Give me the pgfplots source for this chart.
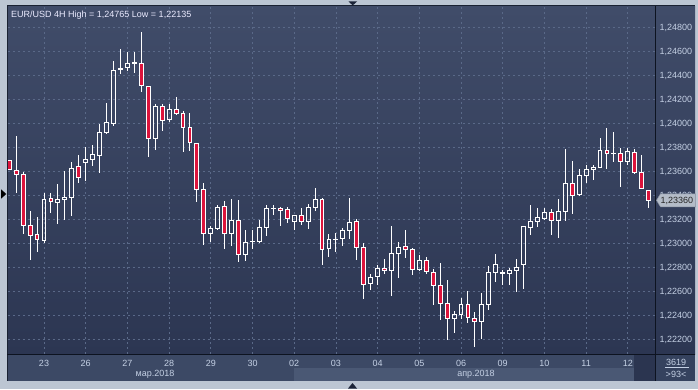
\documentclass[border=0pt]{standalone}
\usepackage{fontspec}
\setmainfont{Liberation Sans}
\usepackage{pgfplots}
\usepackage{pgfplotstable}
\pgfplotsset{compat=1.18}
\definecolor{framec}{HTML}{BCC6D3}
\definecolor{bordc}{HTML}{1A2232}
\definecolor{bgtop}{HTML}{404C69}
\definecolor{bgbot}{HTML}{2C3652}
\definecolor{datec}{HTML}{3C4965}
\definecolor{aprc}{HTML}{4A5874}
\definecolor{darkbox}{HTML}{2B3550}
\definecolor{rpanel}{HTML}{35425E}
\definecolor{gridc}{HTML}{5A6988}
\definecolor{labelc}{HTML}{C4D0E4}
\definecolor{redc}{HTML}{DC143C}
\definecolor{tagc}{HTML}{B4BCC8}
\definecolor{tagb}{HTML}{8A94A3}
\definecolor{sepc}{HTML}{0D1320}
\definecolor{tric}{HTML}{1C2438}

\pgfplotstableread{
k open high low close
0 1.23688 1.23695 1.23610 1.23618
1 1.23608 1.23896 1.23421 1.23579
2 1.23579 1.23598 1.23079 1.23148
3 1.23148 1.23271 1.22863 1.23068
4 1.23077 1.23221 1.22932 1.23035
5 1.23029 1.23423 1.23007 1.23368
6 1.23373 1.23423 1.23257 1.23352
7 1.23343 1.23498 1.23165 1.23368
8 1.23368 1.23604 1.23198 1.23385
9 1.23385 1.23679 1.23232 1.23627
10 1.23638 1.23738 1.23507 1.23552
11 1.23677 1.23804 1.23521 1.23702
12 1.23702 1.23821 1.23648 1.23738
13 1.23735 1.23993 1.23588 1.23927
14 1.23921 1.24173 1.23915 1.24010
15 1.23998 1.24521 1.23982 1.24443
16 1.24452 1.24618 1.24413 1.24456
17 1.24468 1.24593 1.24440 1.24502
18 1.24502 1.24598 1.24421 1.24506
19 1.24502 1.24765 1.24263 1.24318
20 1.24310 1.24313 1.23723 1.23877
21 1.23877 1.24165 1.23779 1.24143
22 1.24143 1.24160 1.23940 1.24027
23 1.24035 1.24160 1.24015 1.24118
24 1.24118 1.24221 1.24067 1.24085
25 1.24085 1.24102 1.23765 1.23965
26 1.23968 1.24088 1.23773 1.23843
27 1.23835 1.23838 1.23348 1.23452
28 1.23452 1.23502 1.22990 1.23082
29 1.23082 1.23148 1.23013 1.23127
30 1.23123 1.23318 1.23115 1.23302
31 1.23310 1.23352 1.22957 1.23082
32 1.23082 1.23368 1.22982 1.23193
33 1.23193 1.23360 1.22848 1.22910
34 1.22910 1.23110 1.22857 1.23010
35 1.23013 1.23110 1.22957 1.23017
36 1.23015 1.23193 1.23010 1.23135
37 1.23135 1.23318 1.23065 1.23293
38 1.23291 1.23318 1.23240 1.23295
39 1.23293 1.23302 1.23148 1.23277
40 1.23285 1.23302 1.23173 1.23210
41 1.23185 1.23240 1.23115 1.23232
42 1.23232 1.23293 1.23157 1.23185
43 1.23185 1.23327 1.23123 1.23302
44 1.23302 1.23460 1.23273 1.23368
45 1.23368 1.23382 1.22823 1.22948
46 1.22957 1.23082 1.22890 1.23035
47 1.23033 1.23090 1.22932 1.23037
48 1.23040 1.23127 1.22982 1.23108
49 1.23108 1.23379 1.23040 1.23175
50 1.23185 1.23202 1.22865 1.22965
51 1.22968 1.23007 1.22540 1.22657
52 1.22665 1.22748 1.22615 1.22718
53 1.22723 1.22823 1.22654 1.22793
54 1.22793 1.22868 1.22748 1.22777
55 1.22773 1.23146 1.22565 1.22918
56 1.22918 1.23013 1.22715 1.22968
57 1.22977 1.23110 1.22877 1.22952
58 1.22952 1.22960 1.22740 1.22785
59 1.22782 1.22902 1.22773 1.22860
60 1.22860 1.22885 1.22743 1.22765
61 1.22760 1.22785 1.22485 1.22648
62 1.22652 1.22835 1.22365 1.22498
63 1.22502 1.22696 1.22198 1.22377
64 1.22377 1.22440 1.22257 1.22410
65 1.22407 1.22543 1.22373 1.22493
66 1.22493 1.22604 1.22340 1.22382
67 1.22377 1.22427 1.22135 1.22352
68 1.22352 1.22585 1.22207 1.22493
69 1.22490 1.22810 1.22448 1.22760
70 1.22760 1.22910 1.22682 1.22827
71 1.22752 1.22777 1.22657 1.22756
72 1.22752 1.22800 1.22657 1.22775
73 1.22775 1.22868 1.22598 1.22802
74 1.22827 1.23146 1.22623 1.23143
75 1.23135 1.23318 1.23073 1.23185
76 1.23185 1.23293 1.23135 1.23218
77 1.23210 1.23293 1.23196 1.23260
78 1.23260 1.23285 1.23073 1.23193
79 1.23193 1.23368 1.23043 1.23268
80 1.23268 1.23785 1.23185 1.23502
81 1.23502 1.23690 1.23243 1.23402
82 1.23407 1.23618 1.23402 1.23568
83 1.23568 1.23657 1.23507 1.23618
84 1.23618 1.23654 1.23532 1.23635
85 1.23635 1.23877 1.23627 1.23777
86 1.23777 1.23963 1.23623 1.23752
87 1.23750 1.23929 1.23682 1.23754
88 1.23752 1.23793 1.23473 1.23685
89 1.23685 1.23793 1.23652 1.23768
90 1.23760 1.23785 1.23577 1.23593
91 1.23588 1.23740 1.23452 1.23460
92 1.23443 1.23445 1.23298 1.23360
}\ohlc

\pgfplotsset{
  seg/.style={draw=white, line width=1pt, mark=none, forget plot},
}

\begin{document}
\begin{tikzpicture}
\begin{scope}[x=1pt,y=1pt]
\fill[framec] (0,0) rectangle (698,389);
\fill[bordc] (7,8) rectangle (695,383.5);
\shade[top color=bgtop, bottom color=bgbot] (8,35) rectangle (695,382.5);
\fill[datec] (8,8.3) rectangle (655,34.5);
\fill[aprc] (294,8.3) rectangle (634,21.5);
\fill[darkbox] (634,8.3) rectangle (655,34.5);
\fill[rpanel] (656,8.3) rectangle (695,34.5);
\end{scope}

\begin{axis}[
  at={(8pt,35pt)}, anchor=south west,
  width=647pt, height=347pt, scale only axis,
  xmin=-0.18, xmax=92.91,
  ymin=1.220792, ymax=1.249708,
  axis line style={draw=none},
  major tick length=0pt,
  xtick={5,11,17,23,29,35,41,47,53,59,65,71,77,83,89},
  xticklabels={23,26,27,28,29,30,02,03,04,05,06,09,10,11,12},
  ytick={1.222,1.224,1.226,1.228,1.230,1.232,1.234,1.236,1.238,1.240,1.242,1.244,1.246,1.248},
  scaled y ticks=false,
  yticklabel pos=right,
  grid=major,
  major grid style={draw=gridc, line width=0.8pt, dash pattern=on 2pt off 3pt},
  tick label style={font=\fontsize{9}{10}\selectfont, text=labelc},
  xticklabel style={anchor=base, yshift=-12pt},
  yticklabel style={anchor=west, xshift=1pt, /pgf/number format/.cd, fixed, fixed zerofill, precision=5, use comma, /tikz/.cd},
  /pgf/number format/assume math mode=true,
  clip mode=individual,
]
% red body fill of falling candles
\addplot[seg, draw=redc, line width=4pt,
  quiver={u=0, v={max(\thisrow{open}-\thisrow{close},0)}}]
  table[x=k, y=close] {\ohlc};
% upper wicks
\addplot[seg, quiver={u=0, v={\thisrow{high}-max(\thisrow{open},\thisrow{close})}}]
  table[x=k, y expr={max(\thisrow{open},\thisrow{close})}] {\ohlc};
% lower wicks
\addplot[seg, quiver={u=0, v={\thisrow{low}-min(\thisrow{open},\thisrow{close})}}]
  table[x=k, y expr={min(\thisrow{open},\thisrow{close})}] {\ohlc};
% body sides
\addplot[seg, line cap=rect, quiver={u=0, v={abs(\thisrow{close}-\thisrow{open})}}]
  table[x expr={\thisrow{k}-0.28}, y expr={min(\thisrow{open},\thisrow{close})}] {\ohlc};
\addplot[seg, line cap=rect, quiver={u=0, v={abs(\thisrow{close}-\thisrow{open})}}]
  table[x expr={\thisrow{k}+0.28}, y expr={min(\thisrow{open},\thisrow{close})}] {\ohlc};
% body top and bottom edges
\addplot[seg, line cap=rect, quiver={u=0.56, v=0}]
  table[x expr={\thisrow{k}-0.28}, y expr={max(\thisrow{open},\thisrow{close})}] {\ohlc};
\addplot[seg, line cap=rect, quiver={u=0.56, v=0}]
  table[x expr={\thisrow{k}-0.28}, y expr={min(\thisrow{open},\thisrow{close})}] {\ohlc};
\coordinate (cp) at (axis cs:92.91,1.2336);
\end{axis}

\begin{scope}[x=1pt,y=1pt]
% separators
\draw[sepc, line width=1pt] (7,34.5) -- (695,34.5);
\draw[sepc, line width=1pt] (655.5,8.3) -- (655.5,383);
% current price tag
\filldraw[fill=tagc, draw=tagb, line width=0.5pt] ([xshift=1.5pt]cp) -- ++(4,6.5) -- ++(35,0) -- ++(0,-13) -- ++(-35,0) -- cycle;
\node[anchor=west, inner sep=0pt, text=black!85, font=\fontsize{9}{10}\selectfont] at ([xshift=5.5pt,yshift=-0.3pt]cp) {1,23360};
% title
\node[anchor=base west, inner sep=0pt, text=white!92!blue, font=\fontsize{9}{10}\selectfont] at (11,371.8) {EUR/USD 4H High = 1,24765 Low = 1,22135};
% month labels
\node[anchor=base, inner sep=0pt, text=labelc, font=\fontsize{9}{10}\selectfont] at (155,12.5) {мар.2018};
\node[anchor=base, inner sep=0pt, text=labelc, font=\fontsize{9}{10}\selectfont] at (476,12.5) {апр.2018};
% right-bottom panel
\node[anchor=base, inner sep=0pt, text=labelc, font=\fontsize{9}{10}\selectfont] at (676,24) {3619};
\draw[labelc, line width=0.6pt] (665,21.5) -- (689,21.5);
\node[anchor=base, inner sep=0pt, text=labelc, font=\fontsize{9}{10}\selectfont] at (676,11.5) {>93<};
% frame triangles
\fill[tric] (348.5,387.5) -- (357,387.5) -- (352.75,383.6) -- cycle;
\fill[tric] (348,0.5) -- (357,0.5) -- (352.5,6) -- cycle;
\fill[black] (1,199.7) -- (6.3,195) -- (1,190.3) -- cycle;
\end{scope}
\pgfresetboundingbox
\path (0,0) rectangle (698pt,389pt);
\end{tikzpicture}
\end{document}
